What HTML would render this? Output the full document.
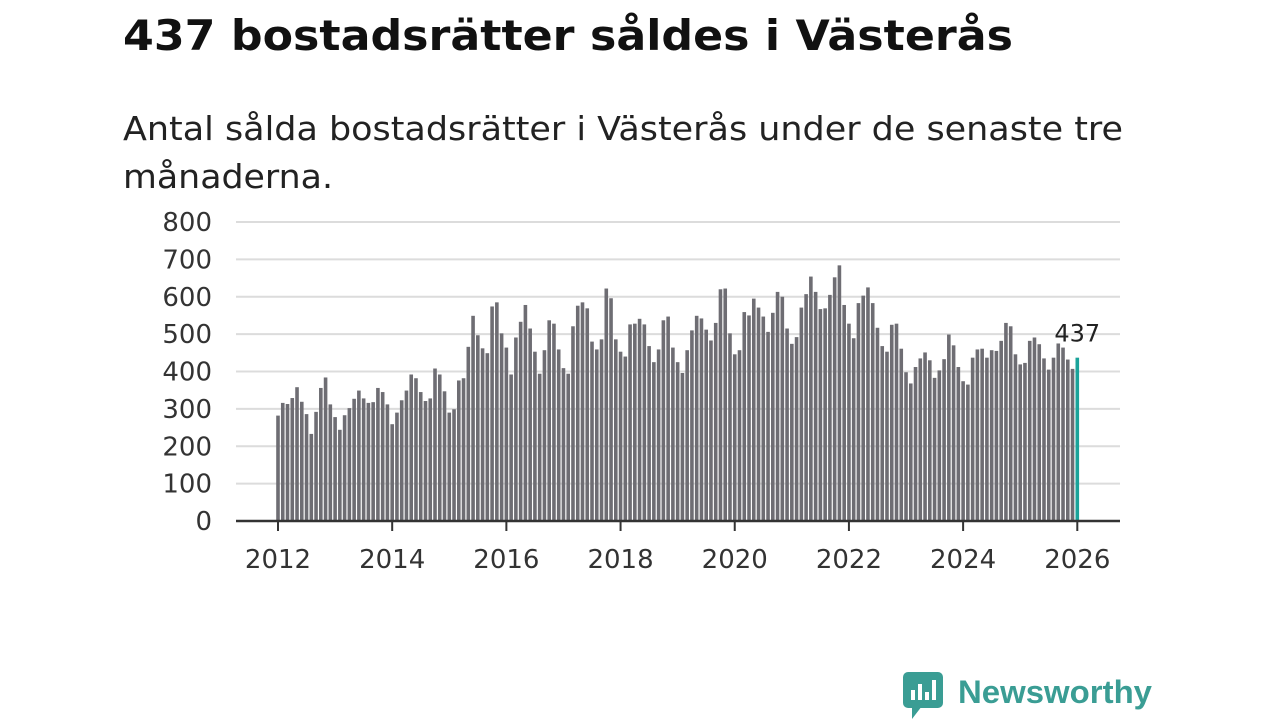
<!DOCTYPE html>
<html><head><meta charset="utf-8"><style>
html,body{margin:0;padding:0;background:#fff;width:1280px;height:720px;overflow:hidden}
svg{display:block;font-family:"DejaVu Sans","Liberation Sans",sans-serif}
</style></head><body>
<svg id="chart" width="1280" height="720" viewBox="0 0 1280 720">
<text x="123" y="50" font-size="42" font-weight="bold" fill="#111" textLength="890" lengthAdjust="spacingAndGlyphs">437 bostadsrätter såldes i Västerås</text>
<text x="123" y="140" font-size="33" fill="#222" textLength="1000" lengthAdjust="spacingAndGlyphs">Antal sålda bostadsrätter i Västerås under de senaste tre</text>
<text x="123" y="188" font-size="33" fill="#222" textLength="210" lengthAdjust="spacingAndGlyphs">månaderna.</text>
<g id="grid"></g><g id="bars"></g><g id="axis"></g>
<g>
<rect x="903" y="672" width="40" height="36" rx="5" fill="#3a9d94"/>
<path d="M912 706 L912 719 L922 706 Z" fill="#3a9d94"/>
<rect x="911" y="690" width="4" height="10" fill="#fff"/><rect x="918" y="684" width="4" height="16" fill="#fff"/><rect x="925" y="692" width="4" height="8" fill="#fff"/><rect x="932" y="680" width="4" height="20" fill="#fff"/>
<text x="958" y="703" font-size="32" font-weight="bold" fill="#3a9d94" textLength="194" lengthAdjust="spacingAndGlyphs" font-family="Liberation Sans, sans-serif">Newsworthy</text>
</g>
</svg>
<script>
const years=[2012,2013,2014,2015,2016,2017,2018,2019,2020,2021,2022,2023,2024,2025];
const yTicks=[0,100,200,300,400,500,600,700,800];
const xTickYears=[2012,2014,2016,2018,2020,2022,2024,2026];
const values=[
282,316,313,329,358,319,286,233,292,356,384,312,
278,244,283,302,327,349,328,316,318,356,345,312,
259,290,323,349,392,382,345,321,328,408,392,347,
290,299,376,382,466,549,497,462,449,574,585,502,
464,392,491,533,578,515,453,394,457,537,528,459,
409,394,521,576,585,569,480,459,486,622,596,486,
453,440,526,528,541,526,468,425,459,537,547,464,
425,396,457,510,549,542,512,483,530,620,622,502,
446,457,559,550,595,571,547,506,557,613,600,515,
474,492,571,607,654,613,567,569,605,652,684,578,
528,489,583,603,625,583,517,468,453,525,528,461,
398,368,412,435,451,430,383,403,433,499,470,412,
374,365,437,459,461,437,457,455,482,530,521,446,
419,423,482,491,473,435,405,437,475,464,432,407];
const lastValue=437;
const lastLabel="437";
const NS="http://www.w3.org/2000/svg";
const x0=278,x1=1077.3,y0=521,yTop=222;
const nMonths=values.length;
const xm=i=>x0+(x1-x0)*i/nMonths;
const xy=yr=>xm((yr-2012)*12);
const ys=v=>y0-(y0-yTop)*v/800;
function mk(tag,attrs,parent){const e=document.createElementNS(NS,tag);for(const k in attrs)e.setAttribute(k,attrs[k]);parent.appendChild(e);return e;}
const grid=document.getElementById('grid'),bars=document.getElementById('bars'),axis=document.getElementById('axis');
yTicks.forEach(t=>{
 const l=mk('line',{x1:236,x2:1120,y1:ys(t),y2:ys(t),stroke:'#dcdcdc','stroke-width':2},grid);
 
 
 const tx=mk('text',{x:212,y:ys(t)+9,'font-size':26,fill:'#333','text-anchor':'end'},grid);
 tx.textContent=t;
 
 
});
const bw=3.6;
values.forEach((v,i)=>{
 const r=mk('rect',{x:xm(i)-bw/2,y:ys(v),width:bw,height:y0-ys(v),fill:'#6e6d73'},bars);
 
 
});
const lb=mk('rect',{x:xm(nMonths)-bw/2,y:ys(lastValue),width:bw,height:y0-ys(lastValue),fill:'#1aa39a'},bars);


const lt=mk('text',{x:xm(nMonths),y:ys(lastValue)-16,'font-size':24,fill:'#222','text-anchor':'middle'},bars);
lt.textContent=lastLabel;


const ax=mk('line',{x1:236,x2:1120,y1:y0,y2:y0,stroke:'#333','stroke-width':2.5},axis);


xTickYears.forEach(yr=>{
 const tk=mk('line',{x1:xy(yr),x2:xy(yr),y1:y0,y2:y0+10,stroke:'#333','stroke-width':2},axis);
 
 
 const tx=mk('text',{x:xy(yr),y:568,'font-size':26,fill:'#333','text-anchor':'middle'},axis);
 tx.textContent=yr;
 
 
});
</script>
</body></html>
